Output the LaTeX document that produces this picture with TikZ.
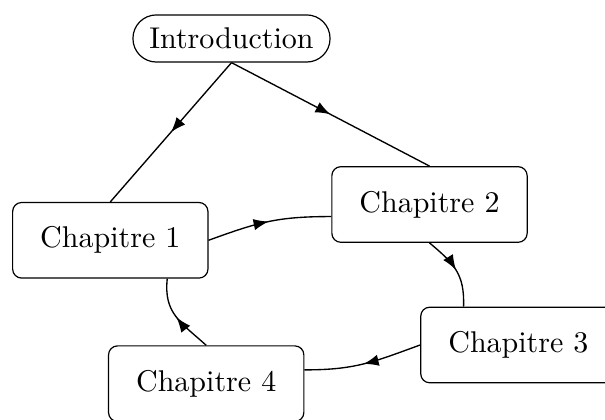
\documentclass[tikz,border=0pt]{standalone}
\usetikzlibrary{arrows.meta,decorations.markings}
\begin{document}
\begin{tikzpicture}[x=0.33333pt,y=0.33333pt,
  box/.style={draw, rounded corners=3pt, minimum width=65.1pt, minimum height=25.2pt, inner sep=0pt},
  intro/.style={draw, rounded corners=7.8pt, minimum width=65.7pt, minimum height=15.7pt, inner sep=0pt},
  midarrow/.style={postaction={decorate}, decoration={markings, mark=at position 0.5 with {\arrow{Latex[length=5pt,width=3.8pt]}}}},
  link/.style={line width=0.45pt}]
\useasboundingbox (0,0) rectangle (605,-420);
\node[intro] (intro) at (231.5,-38.5) {Introduction};
\node[box] (c1) at (110.3,-240.3) {Chapitre 1};
\node[box] (c2) at (429.5,-204.5) {Chapitre 2};
\node[box] (c3) at (518.4,-345) {Chapitre 3};
\node[box] (c4) at (206.2,-383.7) {Chapitre 4};
\draw[link,midarrow] (intro.south) -- (c1.north);
\draw[link,midarrow] (intro.south) -- (c2.north);
\draw[link,midarrow] (c1.east) to[out=20,in=180,looseness=1.1] (c2.187.5);
\draw[link,midarrow] (c2.south) to[out=-40,in=88,looseness=1.15] (c3.145.4);
\draw[link,midarrow] (c3.west) to[out=200,in=0,looseness=1.1] (c4.8.5);
\draw[link,midarrow] (c4.north) to[out=138,in=-96,looseness=1.15] (c1.-34);
\end{tikzpicture}
\end{document}
